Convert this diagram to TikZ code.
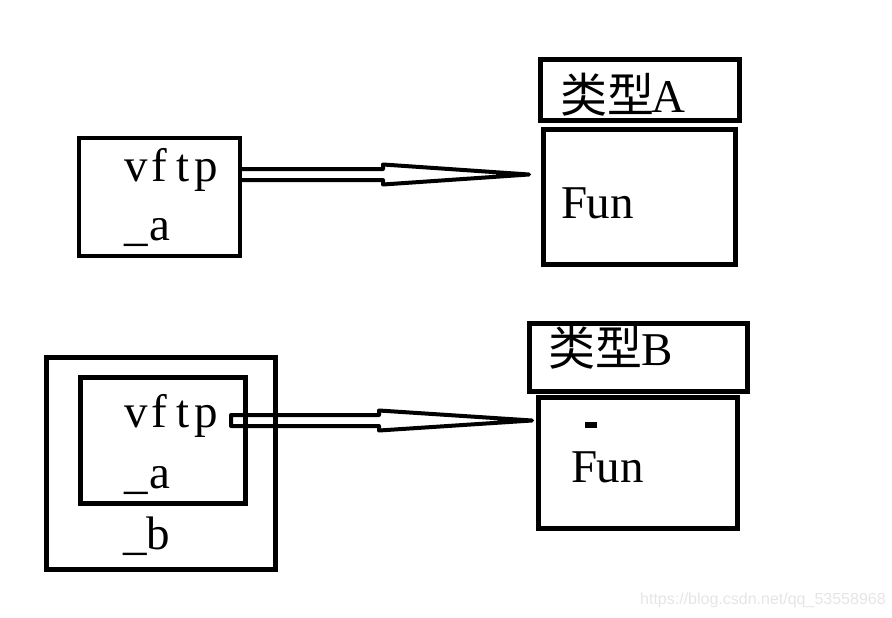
\documentclass[tikz,border=0pt]{standalone}
\usepackage{fontspec}
\setmainfont{Liberation Serif}
\newfontfamily\cjk{Noto Sans CJK SC}
\newfontfamily\wmfont{Liberation Sans}
\usetikzlibrary{calc}
% half-width character cell, as in the original font
\newcommand{\hw}[1]{\makebox[0.5em][c]{#1}}
\tikzset{
	box/.style={shape=rectangle, draw, line width=4.5pt, inner sep=0pt, outer sep=0pt},
	txt/.style={anchor=base west, inner sep=0pt, font=\fontsize{47}{50}\selectfont},
	hollow/.style={line width=4pt, line join=round, to path={
		let \p1=(\tikztostart), \p2=(\tikztotarget) in
		(\x1,\y1+5.5pt) -- (\x2-#1,\y1+5.5pt) -- (\x2-#1,\y1+10pt) -- (\x2,\y2)
		-- (\x2-#1,\y1-10pt) -- (\x2-#1,\y1-5.5pt) -- (\x1,\y1-5.5pt)}},
	hollow/.default=146pt
}
\begin{document}
\begin{tikzpicture}[x=1pt, y=-1pt]
	\useasboundingbox (0,0) rectangle (892,618);

	% oggetto a
	\node[box, minimum width=161, minimum height=118] (boxA) at (159.5,197){};
	\node[txt] (vftpA) at (124,181){\hw{v}\hw{f}\hw{t}\hw{p}};
	\node[txt] (aA) at (124,240){\hw{\_}\hw{a}};

	% oggetto b
	\node[box, minimum width=229, minimum height=212] (outerB) at (161,463.5){};
	\node[box, minimum width=165, minimum height=126] (boxB) at (163,440.5){};
	\node[txt] (vftpB) at (124,427){\hw{v}\hw{f}\hw{t}\hw{p}};
	\node[txt] (aB) at (124,488){\hw{\_}\hw{a}};
	\node[txt] (bB) at (123,549){\hw{\_}\hw{b}};

	% tipo A
	\node[box, minimum width=199, minimum height=61] (typeA) at (640,90){};
	\node[txt] (typeAtxt) at (560,113){{\cjk 类型}\hspace{3pt}\hw{A}};
	\node[box, minimum width=192, minimum height=135] (funA) at (639.5,197){};
	\node[txt] (funAtxt) at (563,218){\hw{F}\hw{u}\hw{n}};

	% tipo B
	\node[box, minimum width=218, minimum height=68] (typeB) at (638.5,357.5){};
	\node[txt] (typeBtxt) at (548,365){{\cjk 类型}\hspace{3pt}\hw{B}};
	\node[box, minimum width=199, minimum height=131] (funB) at (638,463){};
	\node[txt] (funBtxt) at (573,482){\hw{F}\hw{u}\hw{n}};
	\fill (585,422) rectangle (597,428);

	% frecce
	\coordinate (tipA) at (529,174.5);
	\coordinate (startB) at (231,420.5);
	\coordinate (tipB) at (532,420.5);
	\draw[hollow] (boxA.east |- tipA) to (tipA);
	\draw[hollow=153pt] (startB) to (tipB) -- cycle;

	\node[anchor=west, inner sep=0pt, text=black!10, font=\wmfont\fontsize{16}{18}\selectfont] (mark) at (640,600){https://blog.csdn.net/qq\_53558968};
\end{tikzpicture}
\end{document}
